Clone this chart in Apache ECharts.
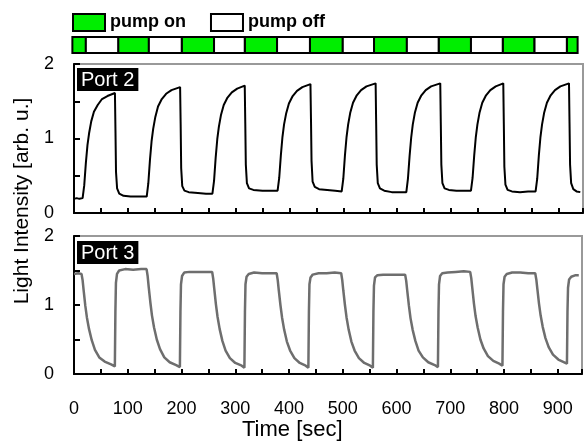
<!DOCTYPE html>
<html>
<head>
    <meta charset="UTF-8" />
    <title>Pump on/off light intensity</title>
    <script src="https://cdn.jsdelivr.net/npm/echarts@6/dist/echarts.min.js"></script>
    <style>
        html, body { margin: 0; padding: 0; background: #fff; }
        #main { width: 585px; height: 443px; }
    </style>
</head>
<body>
<div id="main"></div>
<script>
var chartDom = document.getElementById('main');
var myChart = echarts.init(chartDom);

var FONT = "'Liberation Sans', Arial, sans-serif";
var X_MAX = 945;

/* pump strip: [start, end] in seconds */
var pumpOn = [[-3, 22], [82, 139], [200, 260], [317, 377], [438, 499], [557, 618], [677, 737], [796, 855], [915, 935]];
var pumpOff = [[22, 82], [139, 200], [260, 317], [377, 438], [499, 557], [618, 677], [737, 796], [855, 915]];

/* Port 2 trace, [time, intensity] */
var port2 = [
    [0, 0.19], [5, 0.20], [10, 0.19], [16, 0.20],
    [17, 0.20], [19, 0.37], [22, 0.67], [25, 0.91], [28, 1.07], [32, 1.23], [37, 1.36], [44, 1.45], [52, 1.53], [62, 1.57], [76, 1.61],
    [77, 1.10], [78, 0.55], [80, 0.33], [84, 0.26], [92, 0.23], [105, 0.22], [120, 0.22], [135, 0.22],
    [136, 0.22], [138, 0.40], [141, 0.71], [144, 0.96], [147, 1.13], [151, 1.29], [156, 1.43], [163, 1.53], [171, 1.60], [181, 1.65], [197, 1.69],
    [198, 1.20], [199, 0.60], [201, 0.36], [205, 0.30], [213, 0.28], [230, 0.27], [245, 0.26], [257, 0.26],
    [258, 0.26], [260, 0.43], [263, 0.74], [266, 0.99], [269, 1.16], [273, 1.32], [278, 1.45], [285, 1.55], [293, 1.62], [303, 1.67], [317, 1.71],
    [318, 1.20], [319, 0.65], [321, 0.40], [325, 0.33], [333, 0.31], [350, 0.30], [365, 0.30], [378, 0.30],
    [379, 0.30], [381, 0.47], [384, 0.77], [387, 1.02], [390, 1.19], [394, 1.34], [399, 1.47], [406, 1.57], [414, 1.64], [424, 1.69], [439, 1.73],
    [440, 1.25], [441, 0.70], [443, 0.42], [447, 0.35], [455, 0.32], [470, 0.31], [485, 0.30], [497, 0.29],
    [498, 0.29], [500, 0.46], [503, 0.77], [506, 1.02], [509, 1.19], [513, 1.35], [518, 1.48], [525, 1.58], [533, 1.65], [543, 1.70], [560, 1.74],
    [561, 1.20], [562, 0.65], [564, 0.40], [568, 0.33], [576, 0.30], [590, 0.28], [605, 0.28], [617, 0.28],
    [618, 0.28], [620, 0.46], [623, 0.76], [626, 1.01], [629, 1.19], [633, 1.35], [638, 1.48], [645, 1.58], [653, 1.65], [663, 1.70], [680, 1.74],
    [681, 1.20], [682, 0.65], [684, 0.40], [688, 0.33], [696, 0.31], [710, 0.30], [725, 0.30], [737, 0.30],
    [738, 0.30], [740, 0.47], [743, 0.77], [746, 1.02], [749, 1.19], [753, 1.35], [758, 1.48], [765, 1.58], [773, 1.65], [783, 1.70], [797, 1.74],
    [798, 1.20], [799, 0.62], [801, 0.38], [805, 0.31], [813, 0.29], [828, 0.28], [843, 0.29], [857, 0.29],
    [858, 0.29], [860, 0.46], [863, 0.77], [866, 1.02], [869, 1.19], [873, 1.35], [878, 1.48], [885, 1.58], [893, 1.65], [903, 1.70], [919, 1.74],
    [920, 1.20], [921, 0.65], [923, 0.40], [927, 0.32], [933, 0.29], [940, 0.28]
];

/* Port 3 trace */
var port3 = [
    [0, 1.45], [8, 1.46],
    [14, 1.45], [16, 1.36], [18, 1.21], [21, 0.99], [24, 0.82], [28, 0.65], [33, 0.49], [39, 0.35], [47, 0.24], [57, 0.18], [69, 0.14], [76, 0.11],
    [77, 0.90], [78, 1.32], [80, 1.45], [84, 1.50], [95, 1.52], [110, 1.51], [125, 1.52],
    [135, 1.52], [137, 1.42], [139, 1.26], [142, 1.04], [145, 0.85], [149, 0.67], [154, 0.50], [160, 0.36], [168, 0.24], [178, 0.17], [190, 0.13], [197, 0.10],
    [198, 0.90], [199, 1.30], [201, 1.42], [205, 1.47], [215, 1.48], [230, 1.48], [245, 1.48],
    [257, 1.48], [259, 1.38], [261, 1.23], [264, 1.01], [267, 0.83], [271, 0.65], [276, 0.48], [282, 0.34], [290, 0.23], [300, 0.16], [312, 0.12], [317, 0.09],
    [318, 0.90], [319, 1.30], [321, 1.41], [325, 1.45], [335, 1.47], [350, 1.46], [365, 1.46],
    [377, 1.46], [379, 1.36], [381, 1.21], [384, 1.00], [387, 0.82], [391, 0.64], [396, 0.47], [402, 0.34], [410, 0.23], [420, 0.16], [431, 0.12], [436, 0.09],
    [437, 0.90], [438, 1.30], [440, 1.40], [444, 1.44], [455, 1.46], [470, 1.46], [485, 1.47],
    [497, 1.46], [499, 1.36], [501, 1.21], [504, 1.00], [507, 0.82], [511, 0.64], [516, 0.47], [522, 0.34], [530, 0.23], [540, 0.16], [551, 0.12], [556, 0.09],
    [557, 0.90], [558, 1.28], [560, 1.40], [564, 1.43], [575, 1.44], [590, 1.44], [605, 1.44],
    [616, 1.44], [618, 1.35], [620, 1.20], [623, 0.99], [626, 0.81], [630, 0.64], [635, 0.48], [641, 0.34], [649, 0.24], [659, 0.17], [671, 0.13], [677, 0.10],
    [678, 0.90], [679, 1.30], [681, 1.42], [685, 1.46], [695, 1.47], [710, 1.48], [725, 1.49],
    [737, 1.48], [739, 1.39], [741, 1.24], [744, 1.02], [747, 0.84], [751, 0.67], [756, 0.50], [762, 0.37], [770, 0.26], [780, 0.19], [791, 0.15], [797, 0.12],
    [798, 0.90], [799, 1.30], [801, 1.41], [805, 1.45], [815, 1.47], [830, 1.47], [845, 1.46],
    [858, 1.46], [860, 1.37], [862, 1.23], [865, 1.02], [868, 0.85], [872, 0.68], [877, 0.52], [883, 0.39], [891, 0.28], [901, 0.21], [912, 0.17], [917, 0.15],
    [918, 0.90], [919, 1.25], [921, 1.37], [925, 1.41], [932, 1.43], [939, 1.43]
];

function renderSeg(params, api) {
    var p0 = api.coord([api.value(0), 1]);
    var p1 = api.coord([api.value(1), 0]);
    return {
        type: 'rect',
        shape: { x: p0[0], y: p0[1], width: p1[0] - p0[0], height: p1[1] - p0[1] },
        style: { fill: api.visual('color'), stroke: '#000', lineWidth: 2 }
    };
}

function plotX(grid, showLabels) {
    return {
        type: 'value', gridIndex: grid, min: 0, max: X_MAX, interval: 50,
        axisLine: { show: true, lineStyle: { color: '#000', width: 2 } },
        axisTick: { show: true, inside: true, length: 5, lineStyle: { color: '#000', width: 2 } },
        axisLabel: {
            show: showLabels, margin: 26, fontSize: 18, color: '#000', fontFamily: FONT,
            formatter: function (v) { return v % 100 === 0 ? String(v) : ''; }
        },
        splitLine: { show: false }
    };
}

function plotY(grid) {
    return {
        type: 'value', gridIndex: grid, min: 0, max: 2, interval: 0.5,
        axisLine: { show: true, lineStyle: { color: '#000', width: 2 } },
        axisTick: { show: true, inside: true, length: 6, lineStyle: { color: '#000', width: 2 } },
        axisLabel: {
            margin: 20, fontSize: 18, color: '#000', fontFamily: FONT,
            formatter: function (v) { return v % 1 === 0 ? String(v) : ''; }
        },
        splitLine: { show: false }
    };
}

function portTag(text, x, y) {
    return {
        type: 'text', left: x, top: y, z: 10,
        style: {
            text: text, fill: '#fff', font: '20px ' + FONT,
            backgroundColor: '#000', padding: [2, 4, 1, 4]
        }
    };
}

var option = {
    backgroundColor: '#fff',
    animation: false,
    legend: {
        left: 72, top: 13, padding: 0, itemWidth: 32, itemHeight: 17, itemGap: 24,
        selectedMode: false, icon: 'rect',
        textStyle: { fontSize: 18, fontWeight: 'bold', color: '#000', fontFamily: FONT },
        data: [
            { name: 'pump on', itemStyle: { color: '#00ee00', borderColor: '#000', borderWidth: 2 } },
            { name: 'pump off', itemStyle: { color: '#fff', borderColor: '#000', borderWidth: 2 } }
        ]
    },
    grid: [
        { left: 74, right: 2, top: 37, height: 16 },
        { left: 74, right: 2, top: 64, height: 149, show: true, borderColor: '#999', borderWidth: 2 },
        { left: 74, right: 2, top: 236, height: 138, show: true, borderColor: '#999', borderWidth: 2 }
    ],
    xAxis: [
        { type: 'value', gridIndex: 0, min: 0, max: X_MAX, show: false },
        plotX(1, false),
        plotX(2, true)
    ],
    yAxis: [
        { type: 'value', gridIndex: 0, min: 0, max: 1, show: false },
        plotY(1),
        plotY(2)
    ],
    graphic: [
        portTag('Port 2', 77, 68),
        portTag('Port 3', 77, 241),
        {
            type: 'text', left: 242, top: 419,
            style: { text: 'Time [sec]', fill: '#000', font: '22px ' + FONT }
        },
        {
            type: 'text', x: 22, y: 201, rotation: Math.PI / 2,
            style: { text: 'Light Intensity [arb. u.]', fill: '#000', font: '21px ' + FONT, align: 'center', verticalAlign: 'middle' }
        }
    ],
    series: [
        {
            name: 'pump on', type: 'custom', xAxisIndex: 0, yAxisIndex: 0, clip: false,
            renderItem: renderSeg, encode: { x: [0, 1] },
            itemStyle: { color: '#00ee00' }, data: pumpOn
        },
        {
            name: 'pump off', type: 'custom', xAxisIndex: 0, yAxisIndex: 0, clip: false,
            renderItem: renderSeg, encode: { x: [0, 1] },
            itemStyle: { color: '#fff' }, data: pumpOff
        },
        {
            name: 'Port 2', type: 'line', xAxisIndex: 1, yAxisIndex: 1,
            showSymbol: false, lineStyle: { color: '#000', width: 2 }, data: port2
        },
        {
            name: 'Port 3', type: 'line', xAxisIndex: 2, yAxisIndex: 2,
            showSymbol: false, lineStyle: { color: '#6e6e6e', width: 2.5 }, data: port3
        }
    ]
};

myChart.setOption(option);
</script>
</body>
</html>
